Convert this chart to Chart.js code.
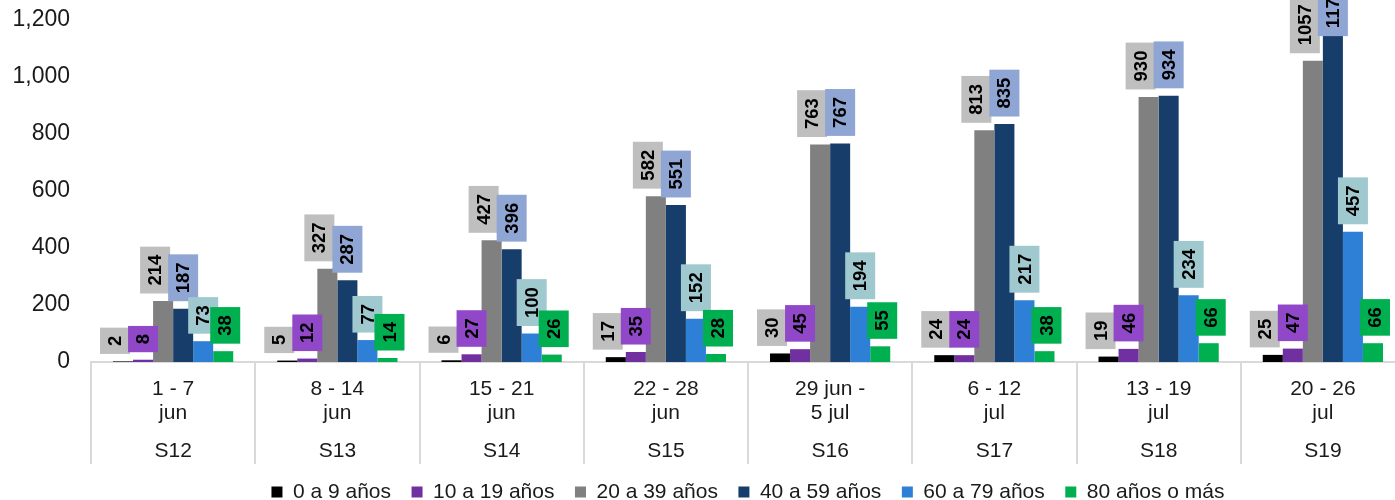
<!DOCTYPE html>
<html>
<head>
<meta charset="utf-8">
<script src="https://cdn.jsdelivr.net/npm/chart.js@4.4.0/dist/chart.umd.min.js"></script>
<style>
html, body { margin: 0; padding: 0; background: #fff; overflow: hidden; }
#wrap { position: absolute; left: 0; top: 0; width: 1410px; height: 500px; }
</style>
</head>
<body>
<div id="wrap"><canvas id="casosChart"></canvas></div>
<script>
// periodos y semanas epidemiologicas
const periodos = [['1 - 7', 'jun'], ['8 - 14', 'jun'], ['15 - 21', 'jun'], ['22 - 28', 'jun'],
                  ['29 jun -', '5 jul'], ['6 - 12', 'jul'], ['13 - 19', 'jul'], ['20 - 26', 'jul']];
const semanas = ['S12', 'S13', 'S14', 'S15', 'S16', 'S17', 'S18', 'S19'];

// casos por grupo de edad
const grupos = ['0 a 9 años', '10 a 19 años', '20 a 39 años', '40 a 59 años', '60 a 79 años', '80 años o más'];
const edad0a9 = [2, 5, 6, 17, 30, 24, 19, 25];
const edad10a19 = [8, 12, 27, 35, 45, 24, 46, 47];
const edad20a39 = [214, 327, 427, 582, 763, 813, 930, 1057];
const edad40a59 = [187, 287, 396, 551, 767, 835, 934, 1175];
const edad60a79 = [73, 77, 100, 152, 194, 217, 234, 457];
const edad80mas = [38, 14, 26, 28, 55, 38, 66, 66];
const valores = [edad0a9, edad10a19, edad20a39, edad40a59, edad60a79, edad80mas];

const colores = ['#000000', '#7030a0', '#808080', '#173e6a', '#2e80d6', '#00b050'];
const fondoEtiqueta = ['#bfbfbf', '#9148c8', '#bfbfbf', '#8fa5d3', '#9fc8cf', '#00b050'];
const desplaz = [-8, 0, -8, 0, 0, 2]; // corrimiento horizontal de las etiquetas

Chart.defaults.font.family = '"Liberation Sans", Arial, sans-serif';
Chart.defaults.color = '#1a1a1a';

// etiquetas de valor en cajas, texto vertical
const etiquetas = {
    id: 'etiquetas',
    afterDatasetsDraw(chart) {
        const ctx = chart.ctx;
        ctx.save();
        ctx.font = 'bold 18.5px "Liberation Sans", Arial, sans-serif';
        chart.data.datasets.forEach((ds, i) => {
            const meta = chart.getDatasetMeta(i);
            meta.data.forEach((bar, j) => {
                const txt = String(ds.data[j]);
                const h = ctx.measureText(txt).width + 16;
                let bottom = bar.y - 7.5;
                if (bottom - h < -20) bottom = h - 20;
                const cx = bar.x + desplaz[i];
                ctx.fillStyle = fondoEtiqueta[i];
                ctx.fillRect(cx - 15, bottom - h, 30, h);
                ctx.save();
                ctx.translate(cx + 1, bottom - h / 2);
                ctx.rotate(-Math.PI / 2);
                ctx.fillStyle = '#000';
                ctx.textAlign = 'center';
                ctx.textBaseline = 'middle';
                ctx.fillText(txt, 0, 0);
                ctx.restore();
            });
        });
        ctx.restore();
    }
};

const ctx = document.getElementById('casosChart').getContext('2d');
const casosChart = new Chart(ctx, {
    type: 'bar',
    data: {
        labels: periodos,
        datasets: grupos.map((g, i) => ({
            label: g,
            data: valores[i],
            backgroundColor: colores[i],
            borderWidth: 0,
            categoryPercentage: 0.732,
            barPercentage: 1
        }))
    },
    options: {
        responsive: true,
        maintainAspectRatio: false,
        animation: false,
        layout: { padding: { top: 20, left: 8, right: 5, bottom: -12.5 } },
        plugins: {
            legend: {
                position: 'bottom',
                fullSize: false,
                labels: {
                    boxWidth: 11,
                    boxHeight: 11,
                    padding: 20.5,
                    font: { size: 21 },
                    color: '#1a1a1a'
                }
            },
            tooltip: { enabled: false }
        },
        scales: {
            x: {
                type: 'category',
                position: 'bottom',
                offset: true,
                grid: { offset: true, drawOnChartArea: false, drawTicks: true, tickLength: 102, color: '#d9d9d9', lineWidth: 2 },
                border: { display: true, color: '#d9d9d9', width: 2 },
                ticks: { padding: -87, font: { size: 21, lineHeight: 24 / 21 }, color: '#1a1a1a', maxRotation: 0, autoSkip: false },
                afterFit: s => { s.height = 62; }
            },
            x2: {
                type: 'category',
                position: 'bottom',
                labels: semanas,
                offset: true,
                grid: { display: false, drawTicks: false },
                border: { display: false },
                ticks: { padding: 15, font: { size: 21, lineHeight: 24 / 21 }, color: '#1a1a1a', maxRotation: 0, autoSkip: false },
                afterFit: s => { s.height = 37; }
            },
            y: {
                min: 0,
                max: 1200,
                ticks: { stepSize: 200, padding: 21, font: { size: 23 }, color: '#1a1a1a' },
                grid: { display: false, drawTicks: false },
                border: { display: false },
                afterFit: s => { s.width = 83; s.paddingTop = 0; }
            }
        }
    },
    plugins: [etiquetas]
});
</script>
</body>
</html>
